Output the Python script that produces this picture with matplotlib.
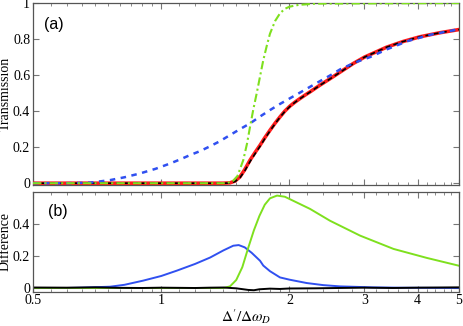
import matplotlib
matplotlib.use("Agg")
import matplotlib.pyplot as plt
from matplotlib.ticker import NullFormatter
import numpy as np

# ---- data ----
# (a) transmission curves
x_red = [0.5, 1.0, 1.40, 1.45, 1.49, 1.53, 1.57, 1.616, 1.66, 1.706, 1.75, 1.80, 1.85, 1.90,
         1.95, 2.005, 2.06, 2.117, 2.175, 2.235, 2.36, 2.49, 2.65, 2.825, 3.0, 3.38, 3.7,
         4.05, 4.5, 5.0]
t_red = [0, 0, 0, 0.002, 0.012, 0.035, 0.075, 0.128, 0.17, 0.211, 0.252, 0.294, 0.333, 0.368,
         0.40, 0.428, 0.45, 0.47, 0.489, 0.507, 0.545, 0.58, 0.622, 0.665, 0.70, 0.755, 0.787,
         0.813, 0.835, 0.853]
t_black = [0, 0, 0, 0.001, 0.009, 0.03, 0.068, 0.12, 0.163, 0.205, 0.247, 0.29, 0.33, 0.366,
           0.398, 0.426, 0.449, 0.469, 0.488, 0.506, 0.544, 0.579, 0.621, 0.664, 0.70, 0.755,
           0.787, 0.813, 0.835, 0.853]

x_blue = [0.5, 0.6, 0.68, 0.758, 0.82, 0.891, 0.97, 1.048, 1.11, 1.168, 1.233, 1.302, 1.37,
          1.45, 1.53, 1.616, 1.70, 1.80, 1.90, 2.0, 2.117, 2.235, 2.36, 2.49, 2.63, 2.85,
          3.09, 3.4, 3.8, 4.3, 5.0]
t_blue = [0, 0, 0.003, 0.017, 0.033, 0.054, 0.08, 0.109, 0.133, 0.156, 0.178, 0.205, 0.232,
          0.267, 0.30, 0.332, 0.368, 0.406, 0.44, 0.47, 0.503, 0.535, 0.567, 0.598, 0.632,
          0.67, 0.70, 0.745, 0.79, 0.825, 0.855]

x_green = [0.5, 1.42, 1.47, 1.51, 1.558, 1.59, 1.616, 1.645, 1.675, 1.705, 1.736, 1.77, 1.80,
           1.85, 1.90, 1.95, 2.0, 2.1, 2.3, 5.0]
t_green = [0, 0, 0.01, 0.04, 0.128, 0.22, 0.313, 0.41, 0.498, 0.59, 0.683, 0.765, 0.83,
           0.90, 0.943, 0.968, 0.98, 0.99, 0.997, 1.0]

# (b) differences
x_dblue = [0.5, 0.6, 0.65, 0.7, 0.758, 0.82, 0.907, 1.0, 1.087, 1.2, 1.302, 1.4, 1.476, 1.52,
           1.57, 1.63, 1.706, 1.736, 1.8, 1.9, 2.0, 2.195, 2.4, 2.63, 3.14, 3.6, 4.2, 5.0]
d_blue = [0, 0, 0.002, 0.005, 0.008, 0.02, 0.046, 0.075, 0.108, 0.15, 0.19, 0.235, 0.264,
          0.268, 0.254, 0.22, 0.17, 0.14, 0.105, 0.066, 0.052, 0.031, 0.018, 0.01, 0.004,
          0.002, 0.001, 0.0]

x_dgreen = [0.5, 1.40, 1.45, 1.5, 1.55, 1.6, 1.65, 1.7, 1.75, 1.8, 1.87, 1.95, 2.0, 2.235,
            2.49, 2.93, 3.51, 4.2, 5.0]
d_green = [0, 0, 0.01, 0.05, 0.13, 0.25, 0.36, 0.45, 0.52, 0.56, 0.577, 0.57, 0.556, 0.494,
           0.42, 0.327, 0.244, 0.188, 0.139]

x_dblack = [0.5, 0.6, 0.7, 0.8, 0.9, 1.0, 1.1, 1.2, 1.3, 1.4, 1.5, 1.6, 1.65, 1.7, 1.8, 1.9,
            2.0, 2.3, 2.6, 3.0, 3.5, 4.0, 4.5, 5.0]
d_black = [0.003, 0.002, 0.004, 0.001, 0.0, 0.002, 0.001, 0.0, 0.002, 0.003, -0.002, -0.012,
           -0.014, -0.008, -0.004, -0.006, -0.003, -0.002, 0.0, 0.002, 0.0, 0.002, 0.003, 0.004]

major_x = [0.5, 1, 2, 3, 4, 5]
major_lbl = ["0.5", "1", "2", "3", "4", "5"]
minor_x = list(np.arange(0.55, 1.0, 0.05)) + list(np.arange(1.1, 2.0, 0.1)) + \
          list(np.arange(2.2, 5.0, 0.2))

c_red = "#ff1c1c"
c_blue = "#3050f0"
c_green = "#7ee01e"

plt.rcParams["mathtext.fontset"] = "stix"
serif = "Liberation Serif"

fig = plt.figure(figsize=(4.63, 3.26), dpi=100)
ax1 = fig.add_axes([0.0713, 0.4325, 0.920, 0.558])
ax2 = fig.add_axes([0.0713, 0.1043, 0.920, 0.307])

ax1.plot(x_red, t_red, color=c_red, lw=2.6, zorder=3)
ax1.plot(x_red, t_black, color="black", lw=1.2, ls=(0, (3, 2)), zorder=4)
ax1.plot(x_blue, t_blue, color=c_blue, lw=1.8, ls=(0, (2.2, 2.2)), zorder=5)
ax1.plot(x_green, t_green, color=c_green, lw=1.5, ls=(0, (4, 1.5, 1, 1.5)), zorder=6)

ax2.plot(x_dblue, d_blue, color=c_blue, lw=1.4)
ax2.plot(x_dgreen, d_green, color=c_green, lw=1.4)
ax2.plot(x_dblack, d_black, color="black", lw=1.4)

for ax in (ax1, ax2):
    ax.set_xscale("log")
    ax.set_xlim(0.5, 5)
    ax.set_xticks(major_x)
    ax.set_xticks(minor_x, minor=True)
    ax.xaxis.set_minor_formatter(NullFormatter())
    ax.tick_params(which="both", direction="in", top=True, right=True, colors="#777777",
                   labelcolor="black", labelsize=10, pad=2)
    ax.tick_params(which="major", length=4)
    ax.tick_params(which="minor", length=2)
    for s in ax.spines.values():
        s.set_color("#555555")
        s.set_linewidth(0.9)

ax1.set_ylim(-0.01, 1.0)
ax1.set_yticks([0, 0.2, 0.4, 0.6, 0.8, 1])
ax1.set_yticklabels(["0", "0.2", "0.4", "0.6", "0.8", "1"], fontfamily=serif)
ax1.xaxis.set_major_formatter(NullFormatter())
ax1.set_ylabel("Transmission", fontfamily=serif, fontsize=10)
ax1.yaxis.set_label_coords(-0.05, 0.5)
ax1.text(0.05, 0.885, "(a)", transform=ax1.transAxes, fontsize=11.5,
         fontfamily="Liberation Sans", ha="center", va="center")

ax2.set_ylim(-0.025, 0.6)
ax2.set_yticks([0, 0.2, 0.4])
ax2.set_yticklabels(["0", "0.2", "0.4"], fontfamily=serif)
ax2.set_xticklabels(major_lbl, fontfamily=serif)
ax2.tick_params(axis="x", pad=1.5)
ax2.set_ylabel("Difference", fontfamily=serif, fontsize=10)
ax2.yaxis.set_label_coords(-0.05, 0.5)
ax2.set_xlabel(r"$\Delta^{\prime}/\Delta\omega_D$", fontsize=11, labelpad=0)
ax2.text(0.059, 0.80, "(b)", transform=ax2.transAxes, fontsize=11.5,
         fontfamily="Liberation Sans", ha="center", va="center")

fig.savefig("out.png", dpi=100)
